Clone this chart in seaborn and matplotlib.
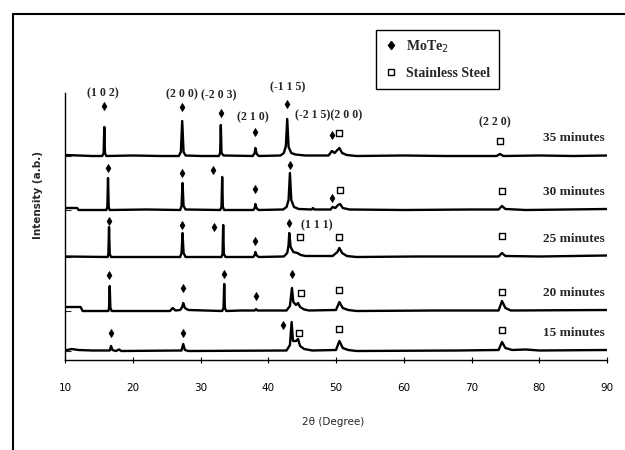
import matplotlib
matplotlib.use("Agg")
import matplotlib.pyplot as plt
import seaborn as sns
import pandas as pd
from matplotlib.lines import Line2D

# ---------------- data ----------------
samples = ["35 minutes", "30 minutes", "25 minutes", "20 minutes", "15 minutes"]

tt_35 = [10.0, 12.0, 14.0, 15.5, 15.7, 15.8, 15.9, 16.1, 20.0, 24.0, 26.8, 27.1, 27.3, 27.5, 27.8, 30.0,
         32.7, 32.9, 33.0, 33.1, 33.4, 37.7, 38.0, 38.1, 38.3, 38.6, 41.8, 42.3, 42.6, 42.8, 43.0, 43.4,
         44.0, 45.5, 48.9, 49.4, 49.8, 50.2, 50.5, 50.9, 51.6, 53.0, 60.0, 66.0, 73.7, 74.2, 74.7, 80.0,
         85.0, 90.0]
int_35 = [1, 0.5, 0, 0, 3, 29, 3, 0, 0.5, 0, 0, 4, 35, 4, 0.5, 0,
          0, 3, 31, 3, 0.5, 0, 3, 8, 2, 0, 0.5, 3, 10, 37, 9, 3,
          1.5, 0.5, 0.5, 5, 3, 6, 8, 3, 1, 0, 0.5, 0, 0, 2, 0, 0.5,
          0, 0.5]

tt_30 = [10.0, 11.8, 12.0, 16.1, 16.25, 16.35, 16.45, 16.6, 22.0, 27.0, 27.2, 27.35, 27.5, 27.8,
         32.9, 33.1, 33.2, 33.3, 33.5, 37.8, 38.0, 38.1, 38.3, 38.6, 42.2, 42.7, 43.0, 43.2, 43.4,
         43.8, 44.5, 46.4, 46.6, 46.8, 49.2, 49.5, 49.9, 50.3, 50.6, 51.0, 52.0, 60.0, 70.0, 74.0,
         74.5, 75.0, 78.0, 90.0]
int_30 = [2, 2, 0, 0, 3, 32, 3, 0, 0.5, 0, 4, 27, 4, 0.5,
          0, 3, 33, 3, 0, 0, 2, 6, 1.5, 0, 0.5, 3, 10, 37, 10,
          3, 1, 0.5, 2, 0.5, 0.5, 3, 2, 5, 6, 2, 0.5, 0, 0.5, 0.5,
          4, 1, 0, 1]

tt_25 = [10.0, 16.3, 16.4, 16.5, 16.6, 16.8, 27.0, 27.2, 27.35, 27.5, 27.8, 33.1, 33.25, 33.35,
         33.45, 33.7, 37.8, 38.0, 38.1, 38.3, 38.6, 42.3, 42.8, 43.0, 43.1, 43.3, 43.7, 44.3, 44.8,
         45.5, 49.5, 50.2, 50.5, 50.9, 51.6, 53.0, 62.0, 74.0, 74.5, 75.0, 80.0, 90.0]
int_25 = [0.5, 0, 3, 30, 3, 0, 0, 4, 24, 4, 0, 0, 3, 32,
          3, 0, 0, 2, 5, 1.5, 0, 0.5, 4, 12, 24, 10, 5, 4, 2,
          1, 1, 5, 9, 4, 1, 0, 0.5, 0.5, 4, 1, 0.5, 1.5]

tt_20 = [10.0, 12.3, 12.6, 16.4, 16.5, 16.6, 16.7, 16.9, 25.5, 25.9, 26.3, 27.0, 27.3, 27.45,
         27.7, 28.2, 33.2, 33.4, 33.5, 33.6, 33.8, 36.0, 38.0, 38.2, 38.4, 42.7, 43.2, 43.5, 43.7,
         44.1, 44.4, 44.7, 45.3, 46.0, 50.0, 50.5, 51.0, 51.8, 53.0, 65.0, 74.0, 74.5, 75.0, 75.8,
         90.0]
int_20 = [4, 4, 0, 0, 3, 25, 3, 0, 0, 3, 0.5, 1, 4, 8,
          3, 1, 0, 3, 27, 3, 0, 0.5, 0.5, 2, 0.5, 0.5, 5, 23, 9,
          6, 8, 4, 1.5, 0.5, 1, 9, 3, 1, 0, 0.5, 0.5, 10, 3, 0.5,
          1]

tt_15 = [10.0, 11.0, 12.0, 14.0, 16.6, 16.8, 17.0, 17.5, 18.0, 18.3, 27.2, 27.45, 27.7, 28.2,
         42.7, 43.2, 43.45, 43.65, 44.1, 44.4, 44.7, 45.3, 46.5, 50.0, 50.5, 51.0, 51.8, 53.0, 68.0,
         74.0, 74.5, 75.0, 76.0, 78.0, 80.0, 90.0]
int_15 = [0.5, 2, 1, 0.5, 0.5, 5, 1, 0, 1.5, 0, 0.5, 7, 1, 0,
          0.5, 6, 29, 10, 10, 12, 5, 2, 0.5, 1, 10, 3, 1, 0, 0.5,
          1, 9, 3, 1, 1.5, 0.5, 1]

# phase markers: (2theta, height above the trace baseline)
mote2_x = [[15.8, 27.3, 33.0, 38.1, 42.8, 49.4],
           [16.4, 27.3, 31.9, 38.1, 43.2, 49.4],
           [16.5, 27.3, 32.0, 38.1, 43.1],
           [16.5, 27.4, 33.5, 38.2, 43.5],
           [16.8, 27.4, 42.2]]
mote2_h = [[50, 49, 43, 24, 52, 21],
           [42, 37, 40, 21, 45, 12],
           [36, 32, 30, 16, 34],
           [36, 23, 37, 15, 37],
           [18, 18, 26]]
steel_x = [[50.5, 74.2],
           [50.6, 74.5],
           [44.7, 50.5, 74.5],
           [44.8, 50.5, 74.5],
           [44.5, 50.5, 74.5]]
steel_h = [[23, 15],
           [20, 19],
           [20, 20, 21],
           [18, 21, 19],
           [18, 22, 21]]

hkl_labels = ["(1 0 2)", "(2 0 0)", "(-2 0 3)", "(2 1 0)", "(-1 1 5)", "(-2 1 5)(2 0 0)", "(2 2 0)", "(1 1 1)"]
xtick_vals = [10, 20, 30, 40, 50, 60, 70, 80, 90]

traces_x = [tt_35, tt_30, tt_25, tt_20, tt_15]
traces_y = [int_35, int_30, int_25, int_20, int_15]

# ---------------- layout ----------------
offsets = [204, 150, 103, 49, 9]
hkl_pos = [(15.6, 267, "center"), (27.3, 266, "center"), (32.7, 265, "center"), (37.7, 243, "center"),
           (42.9, 273, "center"), (43.9, 245, "left"), (73.5, 238, "center"), (47.2, 135, "center")]

sns.set_theme(style="white")
plt.rcParams['font.family'] = ['DejaVu Sans']
serif = ['Liberation Serif', 'DejaVu Serif']

W, H = 625, 450
fig = plt.figure(figsize=(W / 100, H / 100), dpi=100)
fig.patch.set_facecolor("white")
ax = fig.add_axes([65 / W, 90 / H, (607 - 65) / W, 345 / H])
ax.set_facecolor("none")

for i, name in enumerate(samples):
    df = pd.DataFrame({"tt": traces_x[i], "I": [v + offsets[i] for v in traces_y[i]]})
    sns.lineplot(data=df, x="tt", y="I", ax=ax, color="black", lw=1.7,
                 estimator=None, sort=False, legend=False)
    dm = pd.DataFrame({"tt": mote2_x[i], "I": [v + offsets[i] for v in mote2_h[i]]})
    sns.scatterplot(data=dm, x="tt", y="I", ax=ax, marker="d", s=16, color="black",
                    edgecolor="black", linewidth=0.6, legend=False, zorder=3)
    ds = pd.DataFrame({"tt": steel_x[i], "I": [v + offsets[i] for v in steel_h[i]]})
    sns.scatterplot(data=ds, x="tt", y="I", ax=ax, marker="s", s=18, facecolor="white",
                    edgecolor="black", linewidth=1.0, legend=False, zorder=3)
    ax.text(89.6, offsets[i] + 18, name, ha="right", va="center", fontsize=9.5,
            fontweight="bold", family=serif)

for lab, (x, y, ha) in zip(hkl_labels, hkl_pos):
    ax.text(x, y, lab, ha=ha, va="center", fontsize=8.5, fontweight="bold", family=serif)

ax.set_xlim(10, 90)
ax.set_ylim(0, 345)
ax.set_xticks(xtick_vals)
ax.set_xticklabels([str(v) for v in xtick_vals], fontsize=7.5)
ax.set_xticks(range(10, 91, 1), minor=True)
ax.set_yticks(offsets)
ax.set_yticklabels([])
ax.tick_params(axis="x", which="major", direction="inout", length=5, width=0.8, pad=14, colors="black")
ax.tick_params(axis="x", which="minor", direction="in", length=2, width=0.6, colors="black")
ax.tick_params(axis="y", which="major", direction="in", length=4, width=0.8, left=True)
ax.tick_params(axis="x", bottom=True)
for s in ["top", "right"]:
    ax.spines[s].set_visible(False)
for s in ["left", "bottom"]:
    ax.spines[s].set_color("black")
    ax.spines[s].set_linewidth(1.0)
ax.spines["left"].set_bounds(0, 267)
ax.set_xlabel("")
ax.set_ylabel("")

fig.text(333 / W, 1 - 422 / H, "2θ (Degree)", ha="center", va="center", fontsize=7.5)
fig.text(38 / W, 1 - 195 / H, "Intensity (a.b.)", ha="center", va="center", fontsize=7.5,
         fontweight="bold", rotation=90)

handles = [Line2D([], [], ls="none", marker="d", color="black", markersize=4.5),
           Line2D([], [], ls="none", marker="s", markerfacecolor="white", markeredgecolor="black",
                  markersize=4.5)]
leg = fig.legend(handles, ["MoTe$_2$", "Stainless Steel"], loc="upper left",
                 bbox_to_anchor=(369 / W, 1 - 23 / H), frameon=True, fancybox=False,
                 edgecolor="black", framealpha=1, handlelength=1.0, handletextpad=0.6,
                 labelspacing=0.9, borderpad=0.6,
                 prop={"family": serif, "weight": "bold", "size": 10})
leg.get_frame().set_linewidth(1.0)

fig.add_artist(Line2D([13 / W, 13 / W], [0, 1 - 14 / H], transform=fig.transFigure, color="black", lw=1.5))
fig.add_artist(Line2D([13 / W, 1.0], [1 - 14 / H, 1 - 14 / H], transform=fig.transFigure, color="black", lw=1.5))

fig.savefig("out.png", dpi=100)
